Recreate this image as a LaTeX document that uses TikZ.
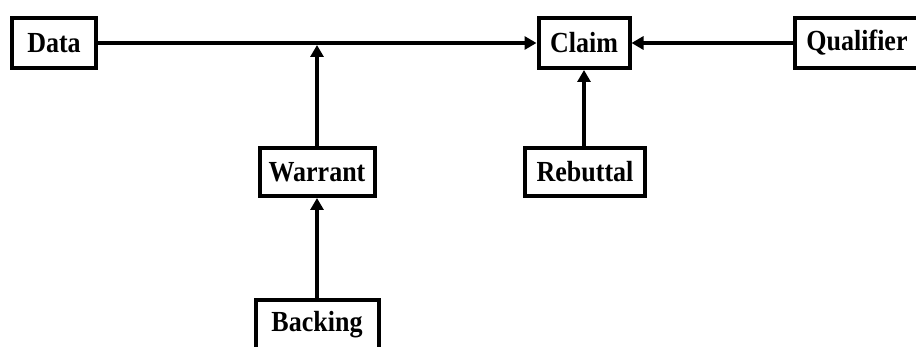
\documentclass[tikz,border=0pt]{standalone}
\usepackage{fontspec}
\setmainfont{Liberation Serif}
\usetikzlibrary{arrows.meta}
\newcommand{\tallt}[1]{\scalebox{1}[1.12]{#1}}
\begin{document}
\begin{tikzpicture}[x=1pt,y=-1pt,
  box/.style={draw=black,line width=4pt,fill=white,rectangle,inner sep=0pt,
    minimum height=50pt,font=\fontsize{26}{28}\selectfont\bfseries},
  arr/.style={line width=4pt,-{Triangle[length=12pt,width=13pt]}}]
\useasboundingbox[fill=white] (0,0) rectangle (916,347);
\node[box,minimum width=84pt] (data) at (54,43) {\tallt{Data}};
\node[box,minimum width=91pt] (claim) at (584,43) {\tallt{Claim}};
\node[box,minimum width=124pt] (qual) at (857,43) {\tallt{Qualifier}};
\node[box,minimum width=115pt,minimum height=48pt] (warrant) at (317,172) {\tallt{Warrant}};
\node[box,minimum width=120pt,minimum height=48pt] (rebuttal) at (585,172) {\tallt{Rebuttal}};
\node[box,minimum width=123pt] (backing) at (317,325) {\tallt{Backing}};
\coordinate (j) at (317,45);
\draw[arr] (data) -- (claim);
\draw[arr] (qual) -- (claim);
\draw[arr] (warrant) -- (j);
\draw[arr] (backing) -- (warrant);
\draw[arr] (rebuttal.north -| claim) -- (claim);
\end{tikzpicture}
\end{document}
